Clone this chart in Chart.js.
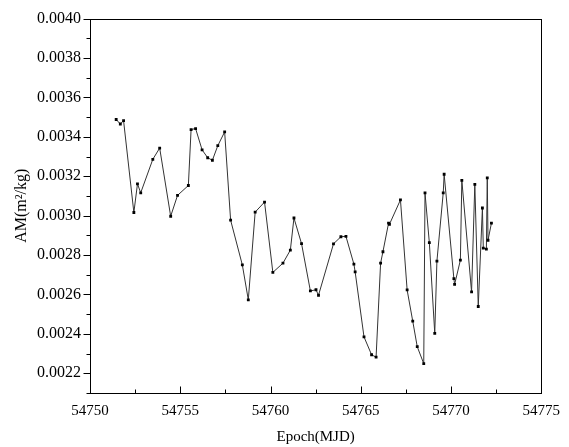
<!DOCTYPE html>
<html lang="en">
<head>
    <meta charset="UTF-8">
    <title>AM vs Epoch</title>
    <script src="https://cdn.jsdelivr.net/npm/chart.js"></script>
    <style>
        html, body { margin: 0; padding: 0; background: #fff; }
        #wrap { width: 569px; height: 447px; }
    </style>
</head>
<body>
    <div id="wrap"><canvas id="amChart" width="569" height="447"></canvas></div>
    <script>
        // Epoch (MJD) of each point
        var epochs = [
            54751.45, 54751.68, 54751.86, 54752.43, 54752.63, 54752.81, 54753.48, 54753.86,
            54754.47, 54754.85, 54755.45, 54755.60, 54755.85, 54756.21, 54756.52, 54756.78,
            54757.08, 54757.46, 54757.79, 54758.44, 54758.77, 54759.15, 54759.67, 54760.13,
            54760.69, 54761.10, 54761.30, 54761.72, 54762.21, 54762.52, 54762.66, 54763.49,
            54763.90, 54764.18, 54764.62, 54764.69, 54765.18, 54765.60, 54765.85, 54766.10,
            54766.23, 54766.54, 54766.59, 54767.20, 54767.57, 54767.88, 54768.13, 54768.49,
            54768.56, 54768.80, 54769.10, 54769.22, 54769.57, 54769.62, 54770.16, 54770.20,
            54770.52, 54770.60, 54771.14, 54771.32, 54771.51, 54771.74, 54771.79, 54771.96,
            54772.01, 54772.05, 54772.24
        ];
        // area-to-mass ratio (m^2/kg)
        var amValues = [
            0.003488, 0.003465, 0.003482, 0.003016, 0.003161, 0.003116, 0.003286, 0.003343,
            0.002997, 0.003103, 0.003153, 0.003437, 0.003442, 0.003334, 0.003294, 0.003281,
            0.003355, 0.003425, 0.002977, 0.002750, 0.002573, 0.003018, 0.003069, 0.002712,
            0.002759, 0.002825, 0.002988, 0.002858, 0.002618, 0.002624, 0.002596, 0.002857,
            0.002893, 0.002895, 0.002754, 0.002715, 0.002385, 0.002294, 0.002282, 0.002759,
            0.002817, 0.002962, 0.002956, 0.003080, 0.002623, 0.002465, 0.002335, 0.002249,
            0.003116, 0.002863, 0.002403, 0.002769, 0.003116, 0.003210, 0.002680, 0.002651,
            0.002774, 0.003179, 0.002613, 0.003159, 0.002539, 0.003039, 0.002835, 0.002830,
            0.003192, 0.002875, 0.002962
        ];
        var xTickLabels = ['54750', '54755', '54760', '54765', '54770', '54775'];
        var yTickLabels = ['0.0022', '0.0024', '0.0026', '0.0028', '0.0030',
                           '0.0032', '0.0034', '0.0036', '0.0038', '0.0040'];

        var points = epochs.map(function (e, i) { return { x: e, y: amValues[i] }; });
        var serif = '"Liberation Serif", "DejaVu Serif", serif';

        // frame around the plot plus tick marks (y outward, x inward)
        var frameTicks = {
            id: 'frameTicks',
            afterDraw: function (chart) {
                var c = chart.ctx, a = chart.chartArea;
                var xs = chart.scales.x, ys = chart.scales.y;
                c.save();
                c.strokeStyle = '#000';
                c.lineWidth = 1;
                var l = Math.round(a.left) + 0.5, r = Math.round(a.right) + 0.5;
                var t = Math.round(a.top) + 0.5, b = Math.round(a.bottom) + 0.5;
                c.strokeRect(l, t, r - l, b - t);
                c.beginPath();
                for (var k = 0; k <= 19; k++) {
                    var v = 0.0021 + k * 0.0001;
                    var py = Math.round(ys.getPixelForValue(v)) + 0.5;
                    var major = (k % 2 === 1);
                    c.moveTo(l, py);
                    c.lineTo(l - (major ? 7 : 4), py);
                }
                for (var j = 0; j <= 10; j++) {
                    var xv = 54750 + j * 2.5;
                    var px = Math.round(xs.getPixelForValue(xv)) + 0.5;
                    c.moveTo(px, b);
                    c.lineTo(px, b - (j % 2 === 0 ? 7 : 4));
                }
                c.stroke();
                c.restore();
            }
        };

        new Chart(document.getElementById('amChart'), {
            type: 'line',
            data: {
                datasets: [{
                    data: points,
                    borderColor: '#333',
                    borderWidth: 1,
                    pointStyle: 'rect',
                    pointRadius: 2,
                    pointBackgroundColor: '#000',
                    pointBorderWidth: 0,
                    tension: 0
                }]
            },
            options: {
                responsive: false,
                animation: false,
                layout: { padding: { left: 0, right: 19, top: 12, bottom: 0 } },
                plugins: { legend: { display: false }, tooltip: { enabled: false } },
                scales: {
                    x: {
                        type: 'linear',
                        min: 54750,
                        max: 54775,
                        afterFit: function (s) { s.height = 54; },
                        afterBuildTicks: function (s) {
                            s.ticks = xTickLabels.map(function (t) { return { value: Number(t) }; });
                        },
                        grid: { display: false, drawTicks: false },
                        border: { display: false },
                        ticks: {
                            padding: 9,
                            color: '#000',
                            font: { family: serif, size: 15 },
                            callback: function (v) { return String(v); }
                        },
                        title: {
                            display: true,
                            text: 'Epoch(MJD)',
                            color: '#000',
                            font: { family: serif, size: 15 },
                            padding: { top: 0, bottom: 1 }
                        }
                    },
                    y: {
                        min: 0.0021,
                        max: 0.0040,
                        afterFit: function (s) { s.width = 90; },
                        afterBuildTicks: function (s) {
                            s.ticks = yTickLabels.map(function (t) { return { value: Number(t) }; });
                        },
                        grid: { display: false, drawTicks: false },
                        border: { display: false },
                        ticks: {
                            padding: 9,
                            color: '#000',
                            font: { family: serif, size: 16 },
                            callback: function (v) { return v.toFixed(4); }
                        },
                        title: {
                            display: true,
                            text: 'AM(m²/kg)',
                            color: '#000',
                            font: { family: serif, size: 16 },
                            padding: { top: 12, bottom: 0 }
                        }
                    }
                }
            },
            plugins: [frameTicks]
        });
    </script>
</body>
</html>
